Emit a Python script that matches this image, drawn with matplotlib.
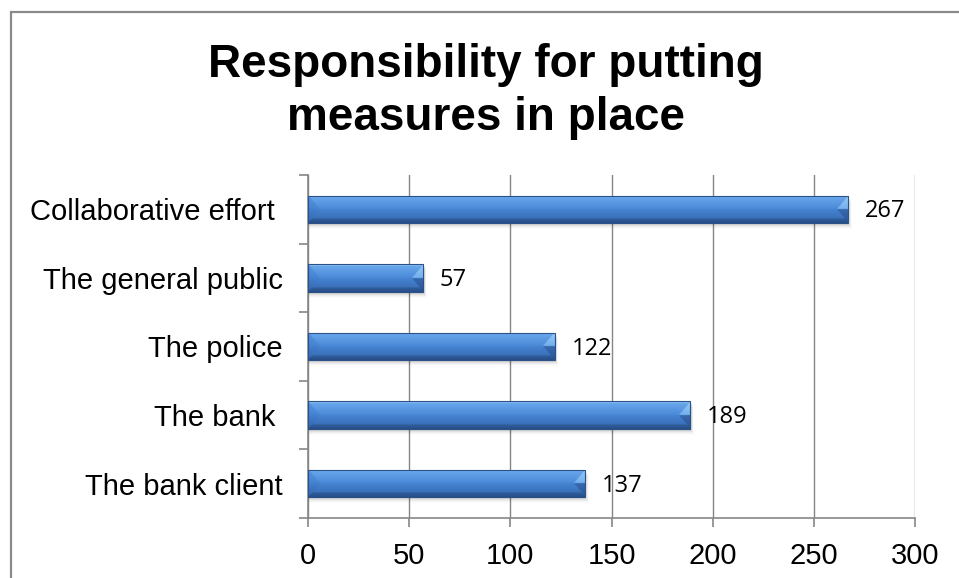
import numpy as np
import matplotlib
matplotlib.use("Agg")
import matplotlib.pyplot as plt
from matplotlib.patches import Rectangle
from matplotlib.colors import to_rgb

# Survey answers: who should be responsible for putting measures in place
categories = ["The bank client", "The bank ", "The police",
              "The general public", "Collaborative effort "]
counts = [137, 189, 122, 57, 267]
x_ticks = [0, 50, 100, 150, 200, 250, 300]
title_lines = ["Responsibility for putting", "measures in place"]

W, H = 959, 578
DPI = 100
fig = plt.figure(figsize=(W / DPI, H / DPI), dpi=DPI)
fig.patch.set_facecolor("white")

# chart-area frame
fig.add_artist(Rectangle((10.5 / W, -0.1), 2.0, (1 - 11.5 / H) + 0.1,
                         transform=fig.transFigure, fill=False,
                         edgecolor="#8a8a8a", linewidth=1.6, zorder=0))

ax = fig.add_axes([308 / W, 1 - 518 / H, (915 - 308) / W, (518 - 175) / H])
ax.set_xlim(0, 300)
ax.set_ylim(-0.5, len(categories) - 0.5)

grid_c = "#868686"
ax.set_xticks(x_ticks)
ax.set_xticklabels([str(t) for t in x_ticks])
ax.grid(axis="x", color=grid_c, linewidth=1.0, zorder=0)
ax.set_axisbelow(True)
for s in ["top", "right"]:
    ax.spines[s].set_visible(False)
for s in ["left", "bottom"]:
    ax.spines[s].set_color(grid_c)
    ax.spines[s].set_linewidth(1.2)

ax.tick_params(axis="x", length=6.5, width=1.2, color=grid_c, pad=10.5,
               labelsize=21, labelcolor="black")
ax.set_yticks(range(len(categories)))
ax.set_yticklabels(categories)
ax.tick_params(axis="y", which="major", length=0, pad=18, labelsize=21)
ax.set_yticks(np.arange(-0.5, len(categories), 1.0), minor=True)
ax.tick_params(axis="y", which="minor", length=6.5, width=1.2, color=grid_c)
for lab in ax.get_xticklabels() + ax.get_yticklabels():
    lab.set_fontfamily("Liberation Sans")

for line, base_px in zip(title_lines, [77, 130]):
    fig.text(486 / W, 1 - base_px / H, line, ha="center", va="baseline",
             fontsize=33, fontweight="bold", family="Liberation Sans")

bar_h = 0.4
px_x = (915 - 308) / 300.0          # pixels per unit along x
px_y = (518 - 175) / len(categories)  # pixels per category


def lerp(c1, c2, t):
    a, b = np.array(to_rgb(c1)), np.array(to_rgb(c2))
    t = np.clip(t, 0, 1)[..., None]
    return a * (1 - t) + b * t


def bevel_image(L, Hp):
    """Shaded bar texture of L x Hp pixels with bevelled ends."""
    nx, ny = max(int(L * 2), 4), max(int(Hp * 2), 4)
    xs = (np.arange(nx) + 0.5) / nx * L
    ys = (np.arange(ny) + 0.5) / ny * Hp
    X, Y = np.meshgrid(xs, ys)
    t = Y / Hp
    img = np.where((t < 0.5)[..., None],
                   lerp("#6cabef", "#4b89d7", t / 0.5),
                   lerp("#4584d2", "#3465ac", (t - 0.5) / 0.5))
    # thin highlight at the top edge and darker rim at the bottom
    img = np.where((Y < 2.0)[..., None], lerp("#a4cdf7", "#7ab5f0", Y / 2.0), img)
    img = np.where((Y > Hp - 4.5)[..., None],
                   lerp("#30609f", "#264c86", (Y - (Hp - 4.5)) / 4.5), img)
    e = min(12.0, L / 2.0)
    half = Hp / 2.0
    k = half / e
    d_left = X * k
    d_right = (L - X) * k
    d_vert = np.minimum(Y, Hp - Y)
    left = d_left < d_vert
    right = d_right < d_vert
    left_col = np.where((t < 0.5)[..., None],
                        lerp("#5394e0", "#4684d2", t / 0.5),
                        lerp("#427fcc", "#3466ad", (t - 0.5) / 0.5))
    right_col = np.where((t < 0.5)[..., None],
                         lerp("#9ccaf6", "#72b0ee", t / 0.5),
                         lerp("#3768ae", "#2b5594", (t - 0.5) / 0.5))
    img = np.where(left[..., None], left_col, img)
    img = np.where(right[..., None], right_col, img)
    return img


for i, v in enumerate(counts):
    y0 = i - bar_h / 2
    # soft drop shadow under and beside the bar
    for k in range(1, 7):
        a = 0.07 * (1 - (k - 1) / 6)
        ax.add_patch(Rectangle((0, y0 - k / px_y), v + k * 0.6 / px_x,
                               bar_h, facecolor="#000000", alpha=a,
                               edgecolor="none", zorder=2))
    bar = ax.barh(i, v, height=bar_h, color="none", edgecolor="#2b5288",
                  linewidth=0.8, zorder=4)[0]
    img = bevel_image(v * px_x, bar_h * px_y)
    im = ax.imshow(img, extent=(0, v, y0, y0 + bar_h), origin="upper",
                   aspect="auto", interpolation="bilinear", zorder=3)
    im.set_clip_path(bar)
    ax.annotate(str(v), xy=(v, i), xytext=(12, -1.5), textcoords="offset points",
                ha="left", va="center", fontsize=17, family="Open Sans",
                color="black", zorder=5)

ax.set_xlim(0, 300)
ax.set_ylim(-0.5, len(categories) - 0.5)

fig.savefig("out.png", dpi=DPI, facecolor="white")
